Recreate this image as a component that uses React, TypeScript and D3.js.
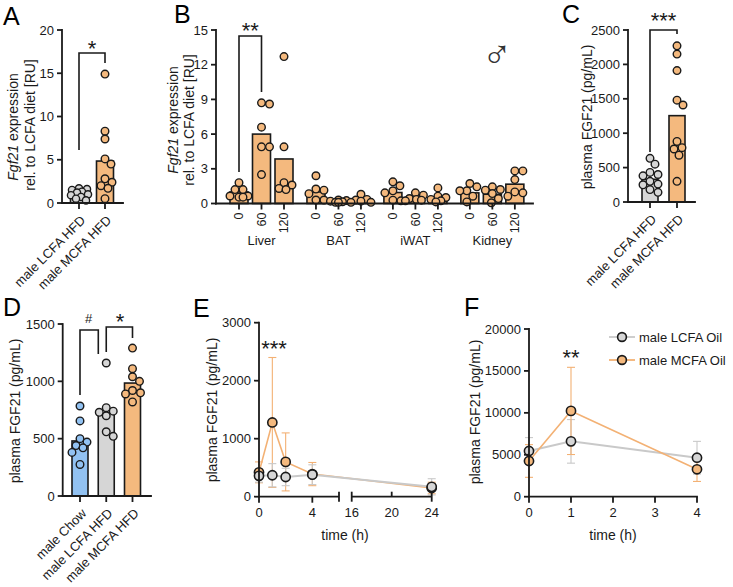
import React from 'react';
import * as d3 from 'd3';

const FONT = "'Liberation Sans', Arial, Helvetica, sans-serif";
const INK = '#1a1a1a';
const ORANGE = '#F4B97E';
const GREY = '#D6D6D6';
const BLUE = '#92C2F2';
const LINE_OR = '#F3B174';
const LINE_GR = '#C9C9C9';

// ---------- Panel A ----------
const aCats = ['male LCFA HFD', 'male MCFA HFD'];
const aMeans = [1.0, 4.85];
const aLCFA = [1.7, 1.6, 1.5, 1.3, 1.2, 1.0, 0.9, 0.7, 0.5, 0.3];
const aMCFA = [14.9, 8.3, 7.4, 5.1, 4.5, 2.8, 2.4, 2.0, 1.7, 0.5];
const aTicks = [0, 5, 10, 15, 20];

// ---------- Panel B ----------
const bTissues = ['Liver', 'BAT', 'iWAT', 'Kidney'];
const bTimes = ['0', '60', '120'];
const bLiver = [1.0, 6.0, 3.85];
const bBAT = [1.0, 0.2, 0.3];
const bIWAT = [0.95, 0.45, 0.5];
const bKidney = [0.92, 0.8, 1.67];
const bLiverPts = [[1.8, 1.2, 1.2, 0.65, 0.65, 0.55, 0.55], [8.7, 8.6, 6.6, 4.9, 4.9, 2.5], [12.7, 4.9, 1.8, 1.6, 1.3, 1.2]];
const bBATPts = [[2.4, 1.25, 1.15, 0.85, 0.3, 0.3], [0.3, 0.25, 0.2, 0.15, 0.1, 0.1], [0.8, 0.35, 0.3, 0.2, 0.1, 0.1]];
const bIWATPts = [[1.87, 1.53, 1.1, 0.92, 0.29, 0.23], [0.92, 0.72, 0.43, 0.35, 0.29, 0.23], [1.35, 0.63, 0.52, 0.35, 0.23, 0.14]];
const bKidneyPts = [[1.73, 1.44, 1.1, 1.1, 0.63, 0.14], [1.44, 1.21, 1.15, 0.86, 0.43, 0.06], [2.82, 2.82, 2.07, 1.0, 0.92, 0.63]];
const bTicks = [0, 3, 6, 9, 12, 15];

// ---------- Panel C ----------
const cCats = ['male LCFA HFD', 'male MCFA HFD'];
const cMeans = [330, 1255];
const cLCFA = [635, 550, 430, 400, 380, 300, 260, 250, 180, 140];
const cMCFA = [2270, 2150, 1910, 1480, 1410, 880, 790, 770, 680, 300];
const cTicks = [0, 500, 1000, 1500, 2000, 2500];

// ---------- Panel D ----------
const dCats = ['male Chow', 'male LCFA HFD', 'male MCFA HFD'];
const dMeans = [480, 720, 985];
const dChow = [785, 655, 500, 470, 440, 420, 380, 275];
const dLCFA = [1160, 770, 740, 730, 700, 560, 520];
const dMCFA = [1290, 1110, 1040, 1000, 920, 900, 890, 820];
const dTicks = [0, 500, 1000, 1500];

// ---------- Panel E ----------
const eTimes = [0, 1, 2, 4, 24];
const eLCFA = [360, 370, 340, 380, 170];
const eLCFAsd = [110, 200, 150, 170, 140];
const eMCFA = [420, 1280, 600, 390, 150];
const eMCFAsd = [180, 1120, 500, 200, 100];
const eYTicks = [0, 1000, 2000, 3000];
const eXTicks1 = [0, 4];
const eXTicks2 = [16, 20, 24];

// ---------- Panel F ----------
const fTimes = [0, 1, 4];
const fLCFA = [5450, 6600, 4650];
const fLCFAsd = [1600, 2600, 1950];
const fMCFA = [4260, 10230, 3270];
const fMCFAsd = [1950, 5200, 1450];
const fYTicks = [0, 5000, 10000, 15000, 20000];
const fXTicks = [0, 1, 2, 3, 4];
const fSeries = ['male LCFA Oil', 'male MCFA Oil'];

// deterministic beeswarm offsets
function swarm(vals: number[], ys: (v: number) => number, r: number, maxW: number): number[] {
  const placed: { x: number; y: number }[] = [];
  const out: number[] = new Array(vals.length).fill(0);
  const order = vals.map((_, i) => i).sort((a, b) => vals[b] - vals[a]);
  const cands: number[] = [0];
  for (let k = 1; k <= maxW; k++) cands.push(k, -k);
  for (const i of order) {
    const py = ys(vals[i]);
    let best = 0;
    let bestD = -1;
    for (const c of cands) {
      let dmin = Infinity;
      for (const p of placed) dmin = Math.min(dmin, Math.hypot(p.x - c, p.y - py));
      if (dmin >= 2 * r) { best = c; bestD = dmin; break; }
      if (dmin > bestD + 0.5) { bestD = dmin; best = c; }
    }
    placed.push({ x: best, y: py });
    out[i] = best;
  }
  return out;
}

function YAxis({ x, scale, ticks }: { x: number; scale: d3.ScaleLinear<number, number>; ticks: number[] }) {
  const [lo, hi] = scale.domain();
  return (
    <g>
      <line x1={x} x2={x} y1={scale(lo)} y2={scale(hi)} stroke={INK} strokeWidth={1.8} strokeLinecap="square" />
      {ticks.map((t) => (
        <g key={t}>
          <line x1={x - 5} x2={x} y1={scale(t)} y2={scale(t)} stroke={INK} strokeWidth={1.8} />
          <text x={x - 8} y={scale(t)} dy="0.35em" textAnchor="end" fontSize={13} fill={INK}>{t}</text>
        </g>
      ))}
    </g>
  );
}

function XBase({ x1, x2, y, ticks }: { x1: number; x2: number; y: number; ticks: number[] }) {
  return (
    <g>
      <line x1={x1} x2={x2} y1={y} y2={y} stroke={INK} strokeWidth={1.8} strokeLinecap="square" />
      {ticks.map((t, i) => <line key={i} x1={t} x2={t} y1={y} y2={y + 6} stroke={INK} strokeWidth={1.8} />)}
    </g>
  );
}

function RotTitle({ x, y, size = 14, children }: { x: number; y: number; size?: number; children: React.ReactNode }) {
  return (
    <text transform={`translate(${x},${y}) rotate(-90)`} textAnchor="middle" dy="0.35em" fontSize={size} fill={INK}>
      {children}
    </text>
  );
}

function DiagLabels({ cats, xs, y }: { cats: string[]; xs: number[]; y: number }) {
  return (
    <g>
      {cats.map((c, i) => (
        <text key={c} transform={`translate(${xs[i] + 4},${y + 15}) rotate(-45)`} textAnchor="end" dy="0.35em" fontSize={13} fill={INK}>{c}</text>
      ))}
    </g>
  );
}

function Bar({ cx, w, v, scale, fill }: { cx: number; w: number; v: number; scale: d3.ScaleLinear<number, number>; fill: string }) {
  const y0 = scale(0);
  const y1 = scale(v);
  return <rect x={cx - w / 2} y={y1} width={w} height={y0 - y1} fill={fill} stroke={INK} strokeWidth={1.6} />;
}

function Dots({ cx, vals, scale, fill, r = 3.8, maxW = 9 }: { cx: number; vals: number[]; scale: d3.ScaleLinear<number, number>; fill: string; r?: number; maxW?: number }) {
  const offs = swarm(vals, (v) => scale(v), r, maxW);
  return (
    <g>
      {vals.map((v, i) => (
        <circle key={i} cx={cx + offs[i]} cy={scale(v)} r={r} fill={fill} stroke={INK} strokeWidth={1.4} />
      ))}
    </g>
  );
}

function Bracket({ x1, y1, x2, y2, top }: { x1: number; y1: number; x2: number; y2: number; top: number }) {
  return <path d={`M${x1},${y1}V${top}H${x2}V${y2}`} fill="none" stroke={INK} strokeWidth={1.6} />;
}

function Stars({ x, cy, text, size = 22 }: { x: number; cy: number; text: string; size?: number }) {
  return <text x={x} y={cy + size * 0.58} textAnchor="middle" fontSize={size} fill={INK}>{text}</text>;
}

function PanelLetter({ x, y, t }: { x: number; y: number; t: string }) {
  return <text x={x} y={y} fontSize={25} fill="#000">{t}</text>;
}

function PanelA() {
  const y = d3.scaleLinear().domain([0, 20]).range([203, 30]);
  const x = d3.scalePoint<string>().domain(aCats).range([79, 105]);
  const xs = aCats.map((c) => x(c) as number);
  return (
    <g>
      <PanelLetter x={3} y={25} t="A" />
      <Bar cx={xs[0]} w={17} v={aMeans[0]} scale={y} fill={GREY} />
      <Bar cx={xs[1]} w={17} v={aMeans[1]} scale={y} fill={ORANGE} />
      <Dots cx={xs[0]} vals={aLCFA} scale={y} fill={GREY} r={3.6} />
      <Dots cx={xs[1]} vals={aMCFA} scale={y} fill={ORANGE} />
      <YAxis x={62} scale={y} ticks={aTicks} />
      <XBase x1={62} x2={123} y={y(0)} ticks={xs} />
      <DiagLabels cats={aCats} xs={xs} y={y(0)} />
      <RotTitle x={13} y={127}><tspan fontStyle="italic">Fgf21</tspan> expression</RotTitle>
      <RotTitle x={30} y={125}>rel. to LCFA diet [RU]</RotTitle>
      <Bracket x1={xs[0]} y1={150} x2={xs[1]} y2={63} top={53} />
      <Stars x={(xs[0] + xs[1]) / 2} cy={43} text="*" />
    </g>
  );
}

function PanelB() {
  const y = d3.scaleLinear().domain([0, 15]).range([203.5, 30]);
  const slot = d3.scaleLinear().domain([0, 1]).range([239, 261.5]);
  const means = [bLiver, bBAT, bIWAT, bKidney];
  const pts = [bLiverPts, bBATPts, bIWATPts, bKidneyPts];
  const cx = (g: number, s: number) => slot(g * 3.42 + s);
  const allX: number[] = [];
  bTissues.forEach((_, g) => bTimes.forEach((__, s) => allX.push(cx(g, s))));
  return (
    <g>
      <PanelLetter x={174} y={23} t="B" />
      {bTissues.map((t, g) => (
        <g key={t}>
          {bTimes.map((tm, s) => (
            <g key={tm}>
              <Bar cx={cx(g, s)} w={18} v={means[g][s]} scale={y} fill={ORANGE} />
              <Dots cx={cx(g, s)} vals={pts[g][s]} scale={y} fill={ORANGE} maxW={10} />
              <text transform={`translate(${cx(g, s)},${y(0) + 9}) rotate(-90)`} textAnchor="end" dy="0.35em" fontSize={12.5} fill={INK}>{tm}</text>
            </g>
          ))}
          <text x={cx(g, 1)} y={245} textAnchor="middle" fontSize={13} fill={INK}>{t}</text>
        </g>
      ))}
      <YAxis x={216} scale={y} ticks={bTicks} />
      <XBase x1={216} x2={533} y={y(0)} ticks={allX} />
      <RotTitle x={173} y={120}><tspan fontStyle="italic">Fgf21</tspan> expression</RotTitle>
      <RotTitle x={189} y={120}>rel. to LCFA diet [RU]</RotTitle>
      <Bracket x1={cx(0, 0)} y1={172} x2={cx(0, 1)} y2={92} top={36} />
      <Stars x={(cx(0, 0) + cx(0, 1)) / 2} cy={25} text="**" />
      <text x={497} y={68} textAnchor="middle" fontSize={40} fontWeight={200} fontFamily="'DejaVu Sans', sans-serif" fill="#333">♂</text>
    </g>
  );
}

function PanelC() {
  const y = d3.scaleLinear().domain([0, 2500]).range([202, 30]);
  const x = d3.scalePoint<string>().domain(cCats).range([650, 677]);
  const xs = cCats.map((c) => x(c) as number);
  return (
    <g>
      <PanelLetter x={562} y={23} t="C" />
      <Bar cx={xs[0]} w={16} v={cMeans[0]} scale={y} fill={GREY} />
      <Bar cx={xs[1]} w={16} v={cMeans[1]} scale={y} fill={ORANGE} />
      <Dots cx={xs[0]} vals={cLCFA} scale={y} fill={GREY} />
      <Dots cx={xs[1]} vals={cMCFA} scale={y} fill={ORANGE} />
      <YAxis x={628} scale={y} ticks={cTicks} />
      <XBase x1={628} x2={695} y={y(0)} ticks={xs} />
      <DiagLabels cats={cCats} xs={xs} y={y(0)} />
      <RotTitle x={587} y={117}>plasma FGF21 (pg/mL)</RotTitle>
      <Bracket x1={xs[0]} y1={152} x2={xs[1]} y2={34} top={30} />
      <Stars x={(xs[0] + xs[1]) / 2} cy={15} text="***" />
    </g>
  );
}

function PanelD() {
  const y = d3.scaleLinear().domain([0, 1500]).range([496, 324]);
  const x = d3.scalePoint<string>().domain(dCats).range([80, 132.5]);
  const xs = dCats.map((c) => x(c) as number);
  return (
    <g>
      <PanelLetter x={3} y={316} t="D" />
      <Bar cx={xs[0]} w={16} v={dMeans[0]} scale={y} fill={BLUE} />
      <Bar cx={xs[1]} w={16} v={dMeans[1]} scale={y} fill={GREY} />
      <Bar cx={xs[2]} w={16} v={dMeans[2]} scale={y} fill={ORANGE} />
      <Dots cx={xs[0]} vals={dChow} scale={y} fill={BLUE} />
      <Dots cx={xs[1]} vals={dLCFA} scale={y} fill={GREY} />
      <Dots cx={xs[2]} vals={dMCFA} scale={y} fill={ORANGE} />
      <YAxis x={62.7} scale={y} ticks={dTicks} />
      <XBase x1={62.7} x2={151} y={y(0)} ticks={xs} />
      <DiagLabels cats={dCats} xs={xs} y={y(0)} />
      <RotTitle x={15} y={411}>plasma FGF21 (pg/mL)</RotTitle>
      <Bracket x1={xs[0]} y1={395} x2={98.3} y2={354} top={330} />
      <Bracket x1={xs[1]} y1={352} x2={xs[2]} y2={338} top={327} />
      <text x={88.7} y={322.5} textAnchor="middle" fontSize={13} fill={INK}>#</text>
      <Stars x={120} cy={316} text="*" />
    </g>
  );
}

function ErrLine({ times, means, sds, x, y, color, width }: { times: number[]; means: number[]; sds: number[]; x: (t: number) => number; y: d3.ScaleLinear<number, number>; color: string; width: number }) {
  const line = d3.line<number>().x((_, i) => x(times[i])).y((d) => y(d));
  return (
    <g>
      {means.map((m, i) => {
        const cx = x(times[i]);
        const top = y(m + sds[i]);
        const bot = y(Math.max(0, m - sds[i]));
        return (
          <g key={i} stroke={color} strokeWidth={1.1}>
            <line x1={cx} x2={cx} y1={top} y2={bot} />
            <line x1={cx - 4} x2={cx + 4} y1={top} y2={top} />
            <line x1={cx - 4} x2={cx + 4} y1={bot} y2={bot} />
          </g>
        );
      })}
      <path d={line(means) || ''} fill="none" stroke={color} strokeWidth={width} />
    </g>
  );
}

function MeanDots({ times, means, x, y, fill }: { times: number[]; means: number[]; x: (t: number) => number; y: d3.ScaleLinear<number, number>; fill: string }) {
  return (
    <g>
      {means.map((m, i) => (
        <circle key={i} cx={x(times[i])} cy={y(m)} r={4.6} fill={fill} stroke={INK} strokeWidth={1.6} />
      ))}
    </g>
  );
}

function PanelE() {
  const y = d3.scaleLinear().domain([0, 3000]).range([496.7, 322.7]);
  const x = d3.scaleLinear().domain([0, 6, 16, 24]).range([259, 339, 351.7, 431.7]);
  const y0 = y(0);
  return (
    <g>
      <PanelLetter x={193} y={317} t="E" />
      <ErrLine times={eTimes} means={eMCFA} sds={eMCFAsd} x={x} y={y} color={LINE_OR} width={1.6} />
      <ErrLine times={eTimes} means={eLCFA} sds={eLCFAsd} x={x} y={y} color={LINE_GR} width={2} />
      <MeanDots times={eTimes} means={eMCFA} x={x} y={y} fill={ORANGE} />
      <MeanDots times={eTimes} means={eLCFA} x={x} y={y} fill={GREY} />
      <YAxis x={259} scale={y} ticks={eYTicks} />
      <line x1={259} x2={x(6)} y1={y0} y2={y0} stroke={INK} strokeWidth={1.8} />
      <line x1={x(6)} x2={x(6)} y1={y0 - 5} y2={y0 + 5} stroke={INK} strokeWidth={1.8} />
      {eXTicks1.map((t) => (
        <g key={t}>
          <line x1={x(t)} x2={x(t)} y1={y0} y2={y0 + 6} stroke={INK} strokeWidth={1.8} />
          <text x={x(t)} y={y0 + 20} textAnchor="middle" fontSize={13} fill={INK}>{t}</text>
        </g>
      ))}
      <line x1={x(16)} x2={x(24)} y1={y0} y2={y0} stroke={INK} strokeWidth={1.8} />
      {eXTicks2.map((t, i) => (
        <g key={t}>
          <line x1={x(t)} x2={x(t)} y1={y0 - 5} y2={i === 1 ? y0 : y0 + 5} stroke={INK} strokeWidth={1.8} />
          <text x={x(t)} y={y0 + 20} textAnchor="middle" fontSize={13} fill={INK}>{t}</text>
        </g>
      ))}
      <text x={345} y={540} textAnchor="middle" fontSize={14} fill={INK}>time (h)</text>
      <RotTitle x={212} y={410}>plasma FGF21 (pg/mL)</RotTitle>
      <Stars x={274} cy={343} text="***" />
    </g>
  );
}

function PanelF() {
  const y = d3.scaleLinear().domain([0, 20000]).range([496.7, 329]);
  const x = d3.scaleLinear().domain([0, 4]).range([529, 697]);
  const y0 = y(0);
  const legY = [337, 360];
  const legCol = [LINE_GR, LINE_OR];
  const legFill = [GREY, ORANGE];
  return (
    <g>
      <PanelLetter x={464} y={316} t="F" />
      <ErrLine times={fTimes} means={fLCFA} sds={fLCFAsd} x={x} y={y} color={LINE_GR} width={2} />
      <ErrLine times={fTimes} means={fMCFA} sds={fMCFAsd} x={x} y={y} color={LINE_OR} width={1.6} />
      <MeanDots times={fTimes} means={fLCFA} x={x} y={y} fill={GREY} />
      <MeanDots times={fTimes} means={fMCFA} x={x} y={y} fill={ORANGE} />
      <YAxis x={529} scale={y} ticks={fYTicks} />
      <line x1={529} x2={697} y1={y0} y2={y0} stroke={INK} strokeWidth={1.8} strokeLinecap="square" />
      {fXTicks.map((t) => (
        <g key={t}>
          <line x1={x(t)} x2={x(t)} y1={y0} y2={y0 + 6} stroke={INK} strokeWidth={1.8} />
          <text x={x(t)} y={y0 + 20} textAnchor="middle" fontSize={13} fill={INK}>{t}</text>
        </g>
      ))}
      <text x={613} y={540} textAnchor="middle" fontSize={14} fill={INK}>time (h)</text>
      <RotTitle x={475} y={412}>plasma FGF21 (pg/mL)</RotTitle>
      <Stars x={571} cy={352} text="**" />
      {fSeries.map((s, i) => (
        <g key={s}>
          <line x1={609} x2={635} y1={legY[i]} y2={legY[i]} stroke={legCol[i]} strokeWidth={1.8} />
          <circle cx={622} cy={legY[i]} r={4.4} fill={legFill[i]} stroke={INK} strokeWidth={1.6} />
          <text x={639} y={legY[i]} dy="0.35em" fontSize={13} fill={INK}>{s}</text>
        </g>
      ))}
    </g>
  );
}

export default function App() {
  return (
    <svg width={733} height={587} viewBox="0 0 733 587" style={{ position: 'absolute', left: 0, top: 0, background: '#fff' }} fontFamily={FONT}>
      <rect width={733} height={587} fill="#fff" />
      <PanelA />
      <PanelB />
      <PanelC />
      <PanelD />
      <PanelE />
      <PanelF />
    </svg>
  );
}
